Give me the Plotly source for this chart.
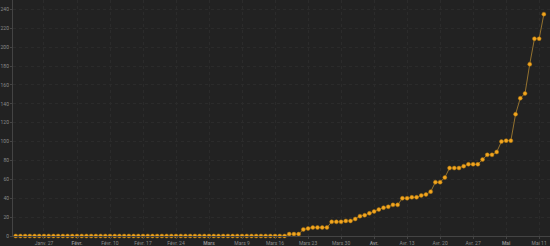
import plotly.graph_objects as go
import pandas as pd

start_date = "2020-01-21"
n_days = 113
dates = pd.date_range(start_date, periods=n_days, freq="D")

values = [
    0, 0, 0, 0, 0, 0, 0, 0, 0, 0,
    0, 0, 0, 0, 0, 0, 0, 0, 0, 0,
    0, 0, 0, 0, 0, 0, 0, 0, 0, 0,
    0, 0, 0, 0, 0, 0, 0, 0, 0, 0,
    0, 0, 0, 0, 0, 0, 0, 0, 0, 0,
    0, 0, 0, 0, 0, 0, 0, 0,
    2, 2, 2, 7, 8, 9, 9, 9, 9, 15,
    15, 15, 16, 16, 18, 21, 22, 24, 26, 28,
    30, 31, 33, 33, 40, 40, 41, 41, 43, 44,
    47, 57, 57, 62, 72, 72, 72, 74, 76, 76,
    76, 81, 86, 86, 89, 100, 101, 101, 129, 146,
    151, 182, 209, 209, 235,
]

tick_dates = ["2020-01-27", "2020-02-03", "2020-02-10", "2020-02-17", "2020-02-24",
              "2020-03-02", "2020-03-09", "2020-03-16", "2020-03-23", "2020-03-30",
              "2020-04-06", "2020-04-13", "2020-04-20", "2020-04-27", "2020-05-04",
              "2020-05-11"]
tick_labels = ["Janv. 27", "<b>Févr.</b>", "Févr. 10", "Févr. 17", "Févr. 24",
               "<b>Mars</b>", "Mars 9", "Mars 16", "Mars 23", "Mars 30",
               "<b>Avr.</b>", "Avr. 13", "Avr. 20", "Avr. 27", "<b>Mai</b>",
               "Mai 11"]
y_ticks = [0, 20, 40, 60, 80, 100, 120, 140, 160, 180, 200, 220, 240]

bg = "#222222"
fig = go.Figure()
fig.add_trace(go.Scatter(
    x=dates, y=values, mode="lines+markers",
    line=dict(color="#94722f", width=1),
    marker=dict(color="#f2a51f", size=4, line=dict(color="#a8720f", width=0.5)),
    cliponaxis=False, hoverinfo="x+y",
))

x0 = pd.Timestamp(start_date) - pd.Timedelta(hours=13.7)
x1 = pd.Timestamp(start_date) + pd.Timedelta(hours=24 * 113.3)

fig.update_layout(
    width=550, height=246,
    margin=dict(l=13, r=0, t=0, b=10),
    paper_bgcolor=bg, plot_bgcolor=bg,
    showlegend=False,
    font=dict(family="Roboto, sans-serif", size=5, color="#8a8a8a"),
    xaxis=dict(
        range=[x0, x1], tickvals=tick_dates, ticktext=tick_labels,
        showgrid=True, gridcolor="#2b2b2b", griddash="dot", gridwidth=1,
        showline=True, linecolor="#444444", linewidth=1,
        ticks="outside", ticklen=2, tickcolor="#444444",
        tickfont=dict(size=5, color="#8a8a8a"), zeroline=False,
    ),
    yaxis=dict(
        range=[0, 250], tickvals=y_ticks,
        showgrid=True, gridcolor="#2b2b2b", griddash="dot", gridwidth=1,
        showline=True, linecolor="#444444", linewidth=1,
        ticks="outside", ticklen=2, tickcolor="#444444",
        tickfont=dict(size=5, color="#8a8a8a"), zeroline=False,
    ),
)

fig.write_html("out.html")
